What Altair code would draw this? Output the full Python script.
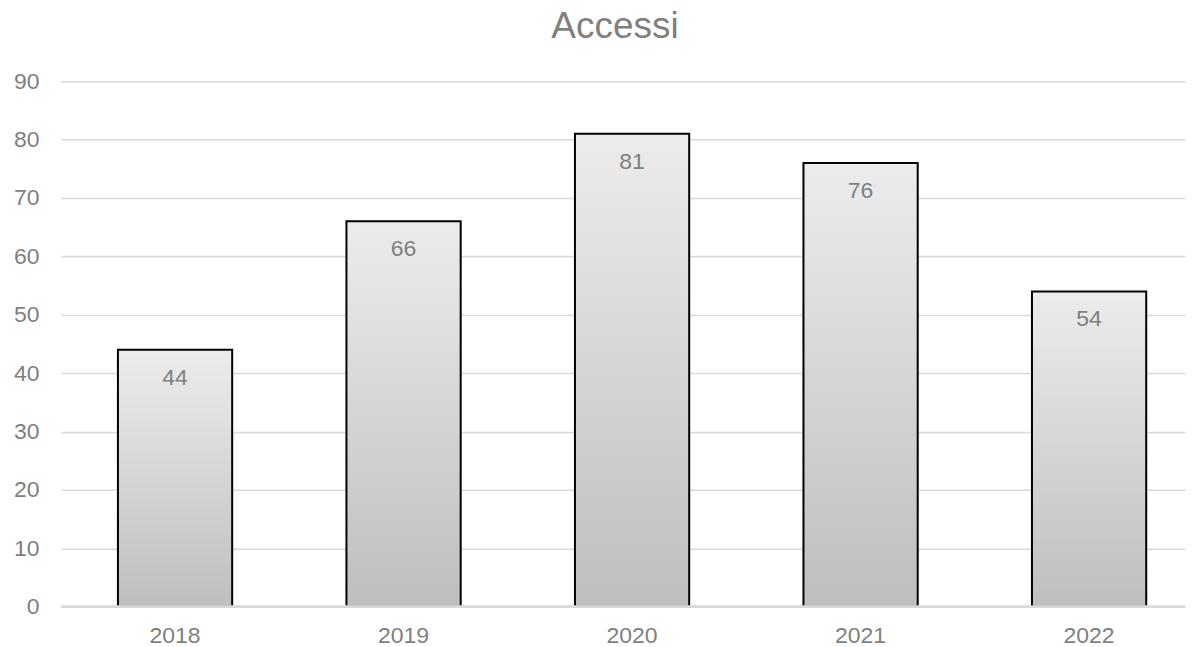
import altair as alt
import pandas as pd

years = ["2018", "2019", "2020", "2021", "2022"]
values = [44, 66, 81, 76, 54]

df = pd.DataFrame({"anno": years, "accessi": values})

FONT = "Liberation Sans"
GRAY = "#7f7f7f"
GRID = "#d9d9d9"

x_enc = alt.X(
    "anno:N",
    sort=years,
    scale=alt.Scale(paddingInner=0.5, paddingOuter=0.2095, align=0.595),
    axis=alt.Axis(
        title=None, labelAngle=0, labelFontSize=23, labelColor=GRAY,
        labelFont=FONT, ticks=False, domain=False, labelPadding=18,
    ),
)
y_enc = alt.Y(
    "accessi:Q",
    scale=alt.Scale(domain=[0, 90], nice=False),
    axis=alt.Axis(
        title=None, values=list(range(0, 91, 10)), labelFontSize=23,
        labelColor=GRAY, labelFont=FONT, ticks=False, domain=False,
        labelPadding=22, gridColor=GRID, gridWidth=1.5,
    ),
)

gradient = alt.Gradient(
    gradient="linear",
    stops=[
        alt.GradientStop(color="#ececec", offset=0),
        alt.GradientStop(color="#bebebe", offset=1),
    ],
    x1=0, x2=0, y1=0, y2=1,
)

bars = alt.Chart(df).mark_bar(
    color=gradient, stroke="#000000", strokeWidth=2
).encode(x=x_enc, y=y_enc)

labels = alt.Chart(df).mark_text(
    baseline="alphabetic", dy=35, fontSize=23, color=GRAY, font=FONT
).encode(x=x_enc, y=y_enc, text="accessi:Q")

base_rule = alt.Chart(df).mark_rule(color=GRID, strokeWidth=2).encode(
    y=alt.datum(0)
)

chart = alt.layer(bars, labels, base_rule).properties(
    width=1125,
    height=526,
    padding={"left": 5, "top": 0, "right": 0, "bottom": 0},
    title=alt.TitleParams(
        text="Accessi", fontSize=37, color=GRAY, font=FONT,
        fontWeight="normal", anchor="middle", offset=24, dx=-8,
    ),
).configure_view(stroke=None)

chart.save("out.html", embed_options={"renderer": "svg", "actions": False})
